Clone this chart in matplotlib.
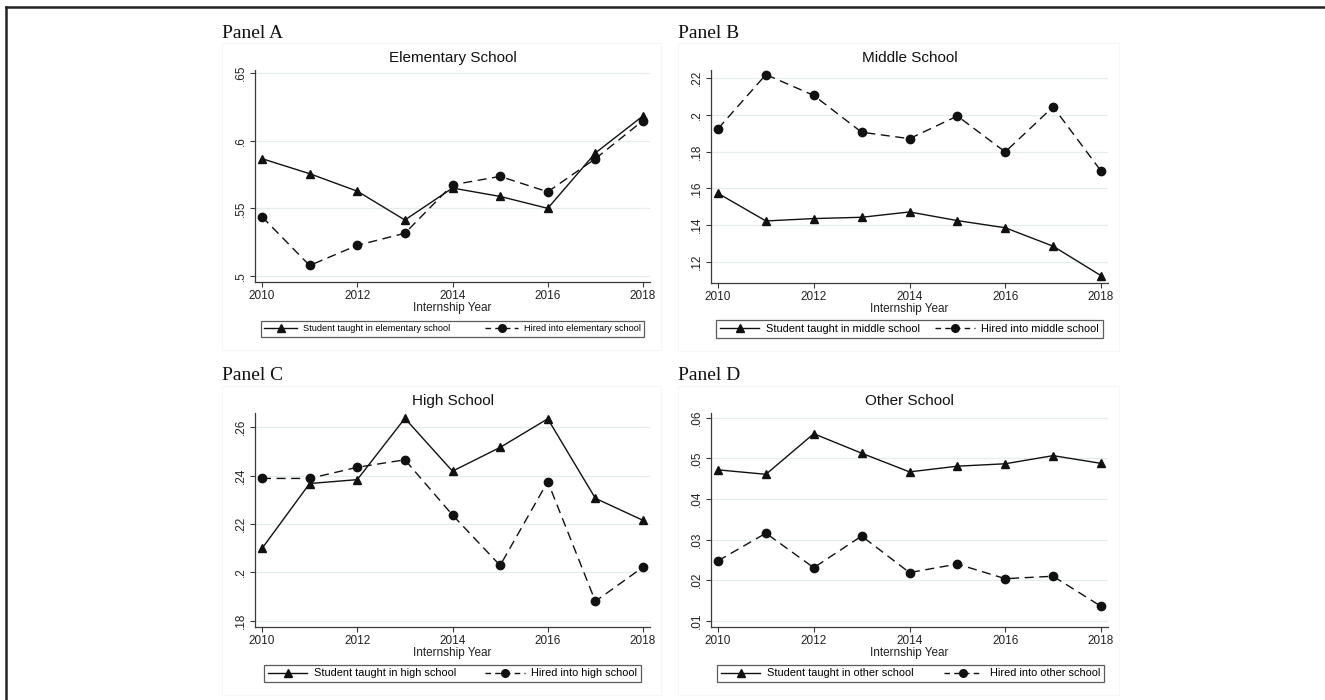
import matplotlib
matplotlib.use('Agg')
import matplotlib.pyplot as plt
from matplotlib.ticker import FuncFormatter
from matplotlib.lines import Line2D

years = [2010, 2011, 2012, 2013, 2014, 2015, 2016, 2017, 2018]

# Panel A - elementary
elem_taught = [.5867, .5756, .5627, .5414, .565, .5588, .550, .5909, .6183]
elem_hired = [.5438, .5078, .5227, .5316, .5674, .5736, .5622, .5867, .6148]

# Panel B - middle
mid_taught = [.1573, .1423, .1436, .1443, .1472, .1425, .1386, .1286, .1126]
mid_hired = [.1924, .2218, .2105, .1905, .1870, .1993, .1798, .2043, .1695]

# Panel C - high
high_taught = [.2099, .2367, .2383, .2636, .2418, .2516, .2634, .2306, .2215]
high_hired = [.2388, .2388, .2434, .2465, .2237, .2029, .2375, .1881, .2022]

# Panel D - other
oth_taught = [.0472, .0461, .0561, .0513, .0467, .0481, .0487, .0507, .0488]
oth_hired = [.0248, .0316, .0231, .0309, .0219, .0240, .0204, .0210, .0136]

W, H = 1325, 700
fig = plt.figure(figsize=(W / 100, H / 100), dpi=100)
plt.rcParams['font.family'] = ['Liberation Sans', 'DejaVu Sans']


def fx(px):
    return px / W


def fy(py):
    return 1 - py / H


def stata_fmt(v, pos):
    s = f"{v:.3g}"
    if s.startswith("0."):
        s = s[1:]
    return s


panels = [
    # label, title, taught, hired, names, yticks, ylim, box(l,t,r,b), legend(l,t,r,b), legend fontsize
    ("Panel A", "Elementary School", elem_taught, elem_hired,
     ("Student taught in elementary school", "Hired into elementary school"),
     [.5, .55, .6, .65], (.4956, .6522), (255, 70, 650, 282), (261, 319, 644, 339), 6.6),
    ("Panel B", "Middle School", mid_taught, mid_hired,
     ("Student taught in middle school", "Hired into middle school"),
     [.12, .14, .16, .18, .2, .22], (.1086, .2243), (711, 70, 1108, 283), (716, 319, 1103, 339), 7.9),
    ("Panel C", "High School", high_taught, high_hired,
     ("Student taught in high school", "Hired into high school"),
     [.18, .2, .22, .24, .26], (.1775, .2658), (255, 413, 650, 627), (264, 663, 641, 684), 7.9),
    ("Panel D", "Other School", oth_taught, oth_hired,
     ("Student taught in other school", "Hired into other school"),
     [.01, .02, .03, .04, .05, .06], (.0085, .0612), (711, 413, 1108, 627), (717, 663, 1104, 684), 7.9),
]

axis_col = '#3a3a3a'

for label, title, taught, hired, names, yticks, ylim, box, leg, lfs in panels:
    l, t, r, b = box
    ax = fig.add_axes([fx(l), fy(b), fx(r - l), (b - t) / H])
    ax.plot(years, taught, color='#111111', lw=1.0, marker='^', ms=6, zorder=3)
    ax.plot(years, hired, color='#111111', lw=1.0, ls=(0, (6.5, 4)), marker='o', ms=6, zorder=3)
    ax.set_xlim(2009.853, 2018.147)
    ax.set_ylim(*ylim)
    ax.set_xticks([2010, 2012, 2014, 2016, 2018])
    ax.set_yticks(yticks)
    ax.yaxis.set_major_formatter(FuncFormatter(stata_fmt))
    ax.grid(axis='y', color='#e4ecef', lw=0.9, zorder=0)
    for s in ['top', 'right']:
        ax.spines[s].set_visible(False)
    for s in ['left', 'bottom']:
        ax.spines[s].set_color(axis_col)
        ax.spines[s].set_linewidth(0.9)
    ax.tick_params(axis='both', colors=axis_col, length=3.5, width=0.8, labelsize=8.5,
                   labelcolor='#222222')
    ax.tick_params(axis='x', pad=2)
    ax.tick_params(axis='y', pad=2)
    for lab in ax.get_yticklabels():
        lab.set_rotation(90)
        lab.set_va('center')
    ax.set_xlabel("Internship Year", fontsize=8.5, color='#222222', labelpad=0)

    cx = (l + r) / 2
    fig.text(fx(cx), fy(t - 12), title, ha='center', va='center', fontsize=11, color='#111111')
    fig.text(fx(l - 33), fy(t - 37), label, ha='left', va='center', fontsize=14,
             family='Liberation Serif', color='#111111')

    handles = [
        Line2D([], [], color='#111111', lw=1.0, marker='^', ms=5.5),
        Line2D([], [], color='#111111', lw=1.0, ls=(0, (4, 3)), marker='o', ms=5.5),
    ]
    ll, lt, lr, lb = leg
    lg = fig.legend(handles, names, loc='center', ncol=2, mode='expand',
                    bbox_to_anchor=(fx(ll), fy(lb), fx(lr - ll), (lb - lt) / H),
                    bbox_transform=fig.transFigure, fontsize=lfs, frameon=True,
                    fancybox=False, handlelength=3.6, borderpad=0.35, borderaxespad=0,
                    columnspacing=1.5, handletextpad=0.6)
    lg.get_frame().set_edgecolor('#333333')
    lg.get_frame().set_linewidth(0.9)

    # faint frame round each graph region
    fig.add_artist(plt.Rectangle((fx(l - 33), fy(b + 68)), fx(r - l + 44), (b + 68 - (t - 27)) / H,
                                 transform=fig.transFigure, fill=False, ec='#f6f6f6', lw=0.8))

# outer frame (left and top only)
fig.add_artist(Line2D([fx(6), fx(6)], [0, fy(7)], color='#222222', lw=1.8, transform=fig.transFigure))
fig.add_artist(Line2D([fx(6), 1], [fy(7), fy(7)], color='#222222', lw=1.8, transform=fig.transFigure))

fig.savefig('out.png', dpi=100)
